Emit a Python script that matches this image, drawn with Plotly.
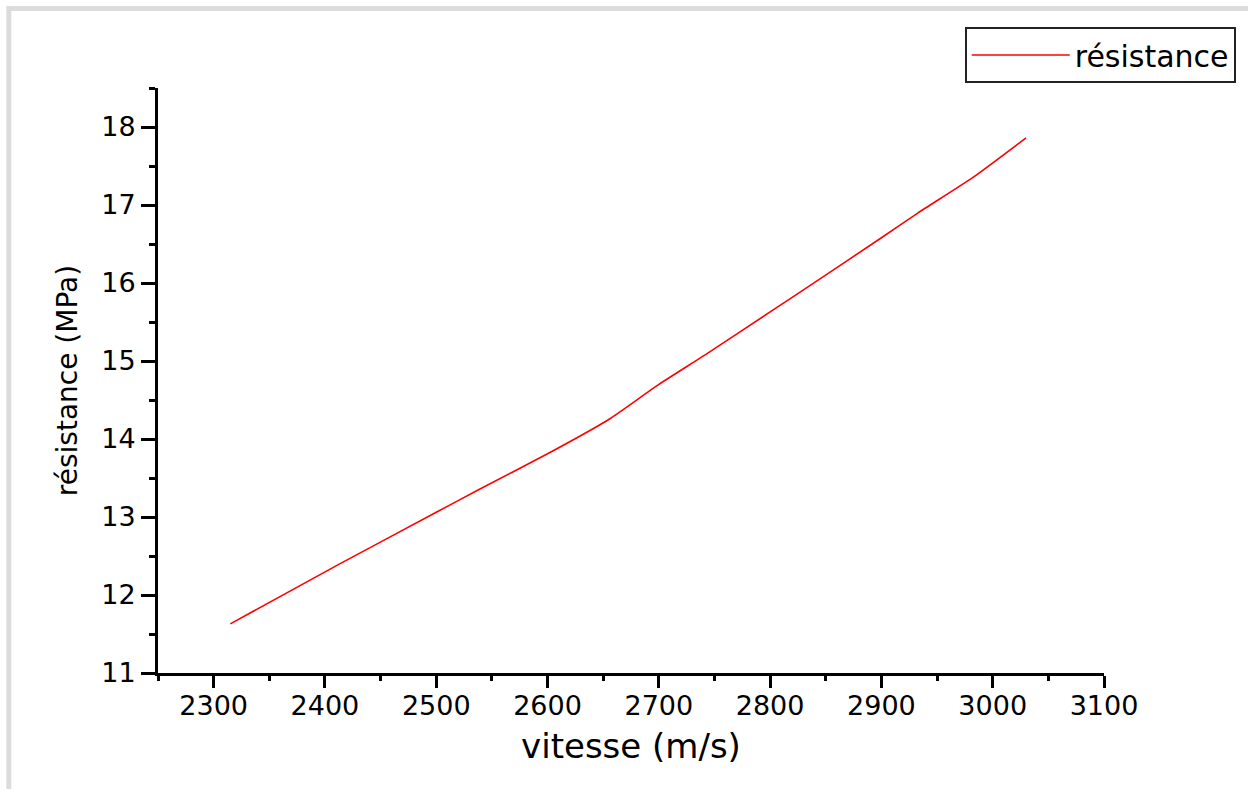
import plotly.graph_objects as go

# Resistance (MPa) versus wave velocity (m/s)
vitesse = [2315, 2412, 2500, 2538, 2600, 2655, 2700, 2744, 2800, 2834, 2900, 2933, 2982, 3030]
resistance = [11.63, 12.39, 13.06, 13.35, 13.81, 14.25, 14.70, 15.10, 15.63, 15.95, 16.58, 16.90, 17.35, 17.86]

x_ticks = [2300, 2400, 2500, 2600, 2700, 2800, 2900, 3000, 3100]
y_ticks = [11, 12, 13, 14, 15, 16, 17, 18]

W, H = 1248, 789
ML, MR, MT, MB = 158, 142, 88, 116
PW, PH = W - ML - MR, H - MT - MB


def px_x(p):
    return (p - ML) / PW


def px_y(p):
    return (H - MB - p) / PH


FONT = "DejaVu Sans"

fig = go.Figure()
fig.add_trace(go.Scatter(
    x=vitesse, y=resistance, mode="lines", name="résistance",
    line=dict(color="#ff0000", width=1.6, shape="spline", smoothing=0.5),
))

axis_common = dict(
    showline=True, linecolor="black", linewidth=3,
    ticks="outside", tickcolor="black", tickwidth=3,
    showgrid=False, zeroline=False, mirror=False,
    tickfont=dict(family=FONT, size=27, color="black"),
)

fig.update_xaxes(
    range=[2250, 3100], tickvals=x_ticks, ticklen=12, ticklabelstandoff=-5,
    minor=dict(dtick=50, tick0=2250, ticks="outside", ticklen=5, tickwidth=3, tickcolor="black"),
    title=dict(text="vitesse (m/s)", font=dict(family=FONT, size=34, color="black"), standoff=14),
    **axis_common,
)
fig.update_yaxes(
    range=[11, 18.5], tickvals=y_ticks, ticklen=14,
    minor=dict(dtick=0.5, tick0=11, ticks="outside", ticklen=6, tickwidth=3, tickcolor="black"),
    title=dict(text="résistance (MPa)", font=dict(family=FONT, size=28, color="black"), standoff=16),
    **axis_common,
)

fig.update_layout(
    width=W, height=H,
    margin=dict(l=ML, r=MR, t=MT, b=MB, pad=0),
    paper_bgcolor="white", plot_bgcolor="white",
    showlegend=True,
    legend=dict(
        x=px_x(1238), y=px_y(27), xanchor="right", yanchor="top",
        xref="paper", yref="paper",
        bordercolor="#222222", borderwidth=2, bgcolor="white",
        font=dict(family=FONT, size=30, color="black"),
        itemwidth=98, tracegroupgap=0,
    ),
    shapes=[
        # light grey frame along the top and left edges
        dict(type="rect", xref="paper", yref="paper",
             x0=px_x(8.5), x1=px_x(1300), y0=px_y(8.5), y1=px_y(900),
             line=dict(color="#dcdcdc", width=5), fillcolor="rgba(0,0,0,0)", layer="below"),
    ],
)

fig.write_html("out.html")
